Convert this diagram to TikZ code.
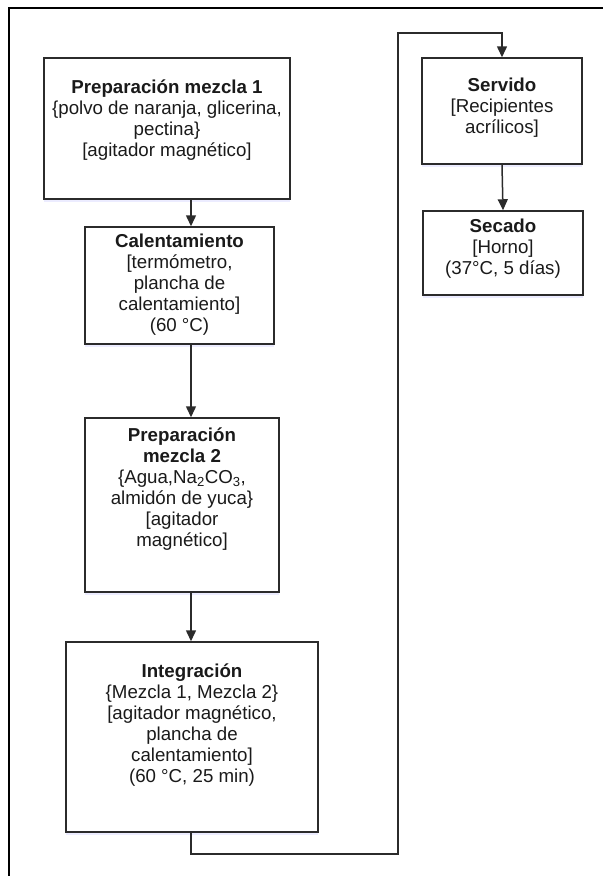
\documentclass[tikz,border=0pt]{standalone}
\usepackage{fontspec}
\setmainfont{Liberation Sans}
\usetikzlibrary{arrows.meta,shadows}
\definecolor{ink}{HTML}{1A1A1A}
\definecolor{edge}{HTML}{2B2B2B}
\begin{document}
\begin{tikzpicture}[x=1pt,y=-1pt,
  stage/.style={draw=edge, line width=1.5pt, fill=white, inner sep=0pt,
    drop shadow={shadow xshift=0pt, shadow yshift=-2.5pt, fill=blue!30, opacity=0.25}},
  label/.style={align=center, text=ink, inner sep=0pt,
    font=\fontsize{18.7}{21}\selectfont},
  flow/.style={draw=edge, line width=1.5pt, -{Triangle[width=10pt,length=11pt]}},
  frame/.style={draw=black, line width=1.3pt}]
\useasboundingbox (0,0) rectangle (603,876);

% open frame along the top and left
\draw[frame] (9,876) -- (9,8) -- (603,8);

% left column: boxes
\node[stage, minimum width=246pt, minimum height=141pt] (b1) at (167,128.5) {};
\node[stage, minimum width=189pt, minimum height=117pt] (b2) at (179.5,285.5) {};
\node[stage, minimum width=194pt, minimum height=174pt] (b3) at (182,505) {};
\node[stage, minimum width=252pt, minimum height=190pt] (b4) at (192,737) {};

% right column: boxes
\node[stage, minimum width=160pt, minimum height=106pt] (b5) at (502,111) {};
\node[stage, minimum width=160pt, minimum height=84pt] (b6) at (503,253) {};

% box texts
\node[label] (b1t) at (167,120)
  {\textbf{Preparación mezcla 1}\\\{polvo de naranja, glicerina,\\pectina\}\\{}[agitador magnético]};
\node[label] (b2t) at (179.5,284.5)
  {\textbf{Calentamiento}\\{}[termómetro,\\plancha de\\calentamiento]\\(60 °C)};
\node[label] (b3t) at (182,489)
  {\textbf{Preparación}\\\textbf{mezcla 2}\\\{Agua,Na\textsubscript{2}CO\textsubscript{3},\\almidón de yuca\}\\{}[agitador\\magnético]};
\node[label] (b4t) at (192,725)
  {\textbf{Integración}\\\{Mezcla 1, Mezcla 2\}\\{}[agitador magnético,\\plancha de\\calentamiento]\\(60 °C, 25 min)};
\node[label] (b5t) at (502,108)
  {\textbf{Servido}\\{}[Recipientes\\acrílicos]};
\node[label] (b6t) at (503,249)
  {\textbf{Secado}\\{}[Horno]\\(37°C, 5 días)};

% connectors
\coordinate (colx) at (191,0);
\coordinate (low) at (398,854);
\coordinate (high) at (398,33);
\draw[flow] (b1.south -| colx) -- (b2.north -| colx);
\draw[flow] (b2.south -| colx) -- (b3.north -| colx);
\draw[flow] (b3.south -| colx) -- (b4.north -| colx);
\draw[flow] (b4.south -| colx) |- (low) -- (high) -| (b5.north);
\draw[flow] (b5.south) -- (b6.north);
\end{tikzpicture}
\end{document}
